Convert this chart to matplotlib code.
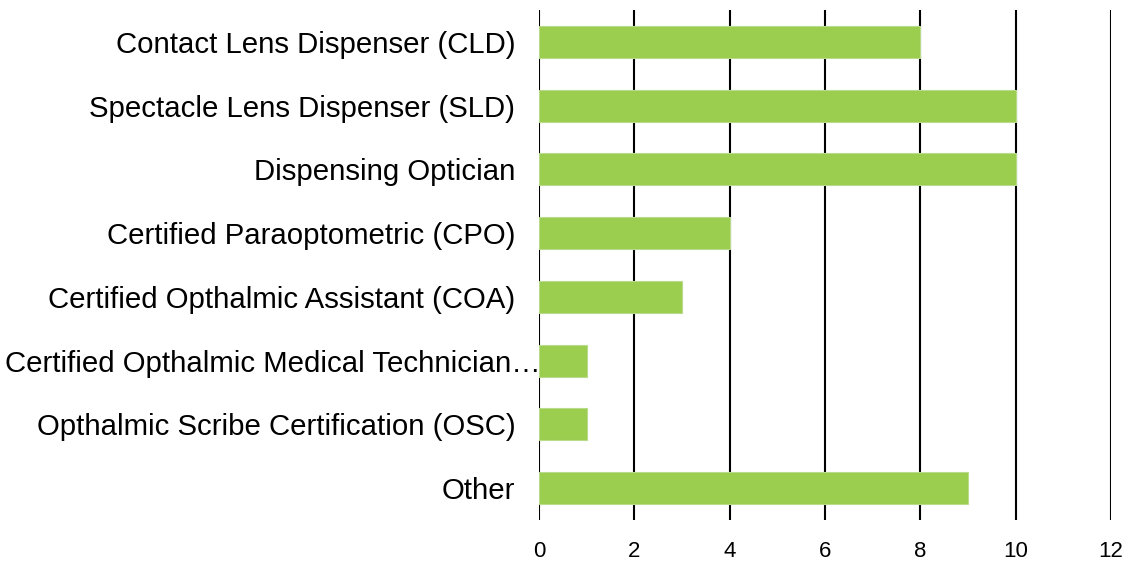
import matplotlib
matplotlib.use("Agg")
import matplotlib.pyplot as plt
from matplotlib.transforms import ScaledTranslation

categories = [
    "Contact Lens Dispenser (CLD)",
    "Spectacle Lens Dispenser (SLD)",
    "Dispensing Optician",
    "Certified Paraoptometric (CPO)",
    "Certified Opthalmic Assistant (COA)",
    "Certified Opthalmic Medical Technician\u2026",
    "Opthalmic Scribe Certification (OSC)",
    "Other",
]
values = [8, 10, 10, 4, 3, 1, 1, 9]
xticks = [0, 2, 4, 6, 8, 10, 12]

plt.rcParams['font.family'] = ['Liberation Sans', 'DejaVu Sans']

fig = plt.figure(figsize=(11.29, 5.62), dpi=100)
ax = fig.add_axes([539/1129, 1 - 520/562, (1111 - 539)/1129, (520 - 10)/562])

ypos = list(range(len(categories)))[::-1]
ax.barh(ypos, values, height=0.5, color="#9BCD4F", edgecolor="#B8DC8A",
        linewidth=0.8, zorder=3)

ax.set_xlim(0, 12)
ax.set_ylim(-0.5, len(categories) - 0.5)
ax.set_xticks(xticks)
ax.set_xticklabels([str(t) for t in xticks], fontsize=16)
ax.set_yticks(ypos)
ax.set_yticklabels(categories, fontsize=21.2)
ax.tick_params(axis='both', length=0)
ax.tick_params(axis='y', pad=17)
ax.tick_params(axis='x', pad=15)
for s in ax.spines.values():
    s.set_visible(False)
ax.xaxis.grid(True, color="black", linewidth=1.5, zorder=0)
ax.set_axisbelow(True)

# the truncated label runs past the usual right edge, as in the reference
for lab in ax.get_yticklabels():
    if lab.get_text().endswith("\u2026"):
        lab.set_transform(lab.get_transform() +
                          ScaledTranslation(25/100, 0, fig.dpi_scale_trans))
        lab.set_zorder(5)

fig.savefig("out.png", dpi=100)
